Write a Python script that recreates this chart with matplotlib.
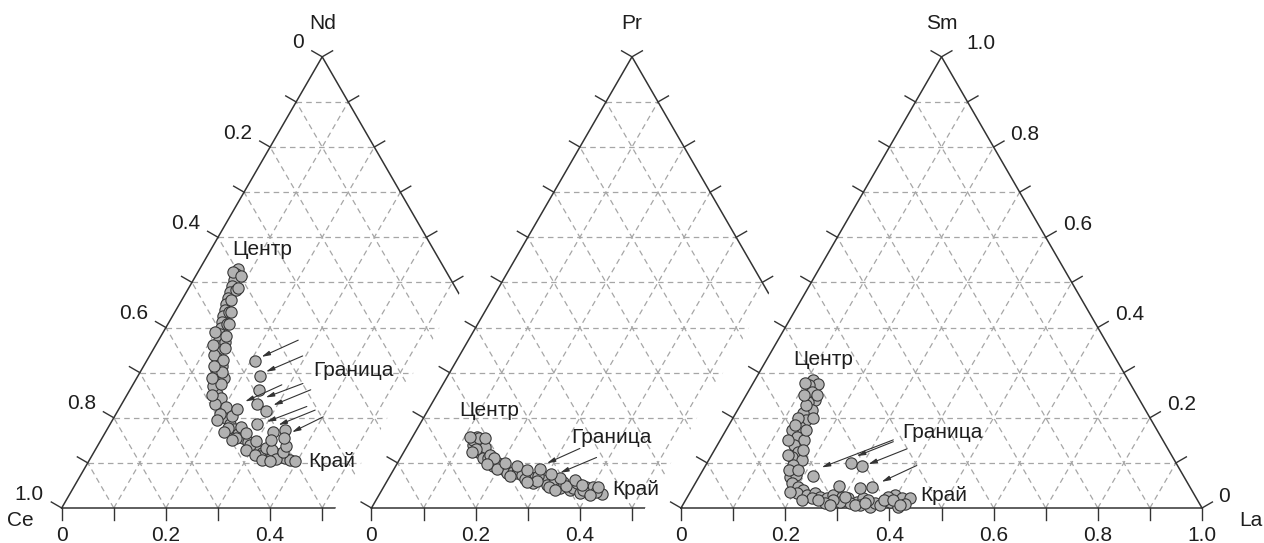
import numpy as np
import matplotlib.pyplot as plt
from matplotlib.patches import Polygon

plt.rcParams['font.family'] = ['Liberation Sans', 'DejaVu Sans']
plt.rcParams['lines.scale_dashes'] = False

H = np.sqrt(3) / 2
PX = 1 / 521  # one pixel expressed in triangle-side units

# left corners of the three triangles on the common baseline
x_origin = [0.0, 0.5946, 1.1887]
apex_names = ['Nd', 'Pr', 'Sm']

# compositions: b = base component, c = apex component (a = 1 - b - c)
# --- Ce-Nd panel
nd_core_b = [0.073, 0.075, 0.078, 0.081, 0.084, 0.086, 0.089, 0.094, 0.097, 0.102,
             0.107, 0.111, 0.116, 0.120, 0.127, 0.132, 0.138, 0.143, 0.150, 0.156,
             0.163, 0.172, 0.180, 0.191, 0.204, 0.215, 0.230, 0.243, 0.256, 0.270,
             0.285, 0.298, 0.311, 0.323, 0.335, 0.346, 0.353, 0.364, 0.374, 0.385,
             0.396, 0.067, 0.093, 0.095, 0.104, 0.113, 0.099, 0.129, 0.122, 0.151,
             0.168, 0.155, 0.184, 0.179, 0.203, 0.200, 0.225, 0.230, 0.254, 0.257,
             0.271, 0.291, 0.299, 0.323, 0.325, 0.340, 0.357, 0.363, 0.362, 0.087,
             0.094, 0.108, 0.117, 0.124, 0.135, 0.146, 0.157, 0.169, 0.145, 0.164,
             0.135, 0.110, 0.201, 0.228, 0.252, 0.290, 0.312, 0.331, 0.348]
nd_core_c = [0.530, 0.519, 0.505, 0.492, 0.479, 0.465, 0.452, 0.439, 0.426, 0.412,
             0.399, 0.386, 0.372, 0.359, 0.346, 0.332, 0.319, 0.306, 0.293, 0.279,
             0.266, 0.253, 0.239, 0.226, 0.213, 0.199, 0.186, 0.175, 0.164, 0.155,
             0.146, 0.137, 0.129, 0.122, 0.117, 0.115, 0.120, 0.113, 0.111, 0.106,
             0.104, 0.523, 0.483, 0.461, 0.434, 0.408, 0.390, 0.368, 0.339, 0.315,
             0.288, 0.270, 0.244, 0.230, 0.224, 0.208, 0.204, 0.177, 0.180, 0.155,
             0.166, 0.140, 0.148, 0.115, 0.133, 0.129, 0.109, 0.124, 0.137, 0.514,
             0.488, 0.434, 0.408, 0.381, 0.355, 0.328, 0.301, 0.275, 0.288, 0.250,
             0.315, 0.361, 0.195, 0.168, 0.151, 0.129, 0.117, 0.106, 0.104]
nd_rim_b = [0.208, 0.235, 0.248, 0.260, 0.285, 0.282, 0.322, 0.327, 0.343, 0.349, 0.227]
nd_rim_c = [0.326, 0.293, 0.262, 0.230, 0.215, 0.186, 0.168, 0.151, 0.173, 0.155, 0.219]
nd_arrows = [((0.268, 0.372), (0.216, 0.335)), ((0.294, 0.337), (0.241, 0.302)),
             ((0.286, 0.273), (0.234, 0.236)), ((0.325, 0.276), (0.269, 0.245)),
             ((0.347, 0.262), (0.292, 0.228)), ((0.358, 0.225), (0.298, 0.191)),
             ((0.378, 0.217), (0.324, 0.184)), ((0.401, 0.202), (0.358, 0.168))]

# --- Pr panel
pr_core_b = [0.123, 0.136, 0.125, 0.138, 0.142, 0.160, 0.159, 0.180, 0.187, 0.209,
             0.221, 0.231, 0.240, 0.252, 0.270, 0.282, 0.298, 0.311, 0.321, 0.340,
             0.339, 0.361, 0.365, 0.367, 0.383, 0.389, 0.399, 0.402, 0.426, 0.120,
             0.150, 0.169, 0.193, 0.198, 0.231, 0.263, 0.285, 0.349, 0.386, 0.413,
             0.128, 0.135, 0.169, 0.288, 0.317, 0.110, 0.140, 0.131, 0.180, 0.173,
             0.206, 0.233, 0.256, 0.270, 0.329, 0.360, 0.378, 0.332, 0.405, 0.412]
pr_core_c = [0.158, 0.151, 0.140, 0.140, 0.125, 0.121, 0.111, 0.103, 0.092, 0.086,
             0.077, 0.080, 0.077, 0.073, 0.069, 0.055, 0.062, 0.051, 0.062, 0.044,
             0.058, 0.040, 0.044, 0.055, 0.034, 0.047, 0.040, 0.047, 0.031, 0.151,
             0.135, 0.111, 0.100, 0.086, 0.071, 0.064, 0.071, 0.049, 0.040, 0.035,
             0.155, 0.131, 0.117, 0.060, 0.047, 0.157, 0.155, 0.124, 0.111, 0.098,
             0.100, 0.093, 0.084, 0.058, 0.067, 0.062, 0.051, 0.040, 0.029, 0.047]
pr_rim_b = [0.280, 0.308]
pr_rim_c = [0.086, 0.075]
pr_arrows = [((0.334, 0.132), (0.287, 0.099)), ((0.376, 0.112), (0.323, 0.078))]

# --- Sm-La panel
sm_core_b = [0.112, 0.126, 0.110, 0.122, 0.137, 0.126, 0.142, 0.130, 0.143, 0.138,
             0.126, 0.143, 0.160, 0.146, 0.163, 0.156, 0.179, 0.168, 0.174, 0.185,
             0.185, 0.201, 0.215, 0.206, 0.227, 0.241, 0.254, 0.269, 0.278, 0.296,
             0.310, 0.330, 0.339, 0.361, 0.367, 0.379, 0.394, 0.415, 0.396, 0.413,
             0.429, 0.319, 0.298, 0.283, 0.340, 0.385, 0.126, 0.125, 0.165, 0.240,
             0.271, 0.350, 0.381, 0.426, 0.100, 0.136, 0.111, 0.154, 0.127, 0.154,
             0.130, 0.170, 0.147, 0.183, 0.223, 0.191, 0.254, 0.283, 0.303, 0.331,
             0.348, 0.398, 0.417]
sm_core_c = [0.284, 0.275, 0.273, 0.258, 0.239, 0.236, 0.217, 0.210, 0.195, 0.180,
             0.173, 0.158, 0.151, 0.140, 0.125, 0.114, 0.106, 0.095, 0.069, 0.073,
             0.055, 0.047, 0.040, 0.033, 0.029, 0.033, 0.025, 0.022, 0.029, 0.025,
             0.022, 0.014, 0.022, 0.003, 0.010, 0.007, 0.014, 0.002, 0.029, 0.022,
             0.022, 0.010, 0.014, 0.018, 0.007, 0.025, 0.228, 0.200, 0.084, 0.022,
             0.011, 0.018, 0.018, 0.009, 0.277, 0.250, 0.250, 0.200, 0.184, 0.173,
             0.151, 0.129, 0.118, 0.084, 0.018, 0.036, 0.018, 0.007, 0.024, 0.007,
             0.011, 0.018, 0.007]
sm_rim_b = [0.218, 0.276, 0.300, 0.344, 0.322, 0.278]
sm_rim_c = [0.072, 0.099, 0.093, 0.047, 0.044, 0.049]
sm_arrows = [((0.332, 0.151), (0.225, 0.090)), ((0.334, 0.147), (0.280, 0.115)),
             ((0.368, 0.131), (0.311, 0.097)), ((0.405, 0.094), (0.356, 0.058))]

panels = [
    (nd_core_b + nd_rim_b, nd_core_c + nd_rim_c, nd_arrows),
    (pr_core_b + pr_rim_b, pr_core_c + pr_rim_c, pr_arrows),
    (sm_core_b + sm_rim_b, sm_core_c + sm_rim_c, sm_arrows),
]

# zone labels, (b, c) of the text centre
zone_names = ['Центр', 'Граница', 'Край']
zone_pos = [
    [(0.097, 0.574), (0.407, 0.304), (0.468, 0.102)],
    [(0.117, 0.217), (0.383, 0.157), (0.488, 0.040)],
    [(0.108, 0.330), (0.417, 0.168), (0.490, 0.027)],
]

tick_vals = np.round(np.arange(0, 1.01, 0.1), 1)
left_labels = [0.0, 0.2, 0.4, 0.6, 0.8, 1.0]    # along Ce edge, 0 at the apex
base_labels_short = [0.0, 0.2, 0.4]
base_labels_full = [0.0, 0.2, 0.4, 0.6, 0.8, 1.0]
right_labels = [0.2, 0.4, 0.6, 0.8]             # along La edge, apex = 1.0

EDGE = '#333333'
GRID = '#a6a6a6'
INK = '#1e1e1e'
FS = 15


def tern(x0, b, c):
    b = np.asarray(b, dtype=float)
    c = np.asarray(c, dtype=float)
    return x0 + b + c / 2, c * H


def draw_frame(ax, x0, z):
    for v in tick_vals[1:-1]:
        for bb, cc in (([0, 1 - v], [v, v]), ([v, v], [0, 1 - v]), ([1 - v, 0], [0, 1 - v])):
            x, y = tern(x0, bb, cc)
            ax.plot(x, y, color=GRID, lw=0.9, dashes=(4, 3), zorder=z)
    x, y = tern(x0, [0, 1, 0, 0], [0, 0, 1, 0])
    ax.plot(x, y, color=EDGE, lw=1.1, zorder=z + 1, solid_joinstyle='miter')
    t = 12 * PX
    for v in tick_vals:
        lx, ly = tern(x0, 0, v)
        ax.plot([lx, lx - t * H], [ly, ly + t / 2], color=EDGE, lw=1.0, zorder=z + 1)
        rx, ry = tern(x0, 1 - v, v)
        ax.plot([rx, rx + t * H], [ry, ry + t / 2], color=EDGE, lw=1.0, zorder=z + 1)
        bx, by = tern(x0, v, 0)
        ax.plot([bx, bx], [by, by - t], color=EDGE, lw=1.0, zorder=z + 1)


fig = plt.figure(figsize=(12.64, 5.43), dpi=100)
ax = fig.add_axes([0, 0, 1, 1])
x_lo, x_hi = -61.7 * PX, (1264 - 61.7) * PX
y_lo, y_hi = -35 * PX, 508 * PX
ax.set_xlim(x_lo, x_hi)
ax.set_ylim(y_lo, y_hi)
ax.axis('off')

for k, x0 in enumerate(x_origin):
    z = 10 * k + 2
    if k > 0:
        # blank out the part of the previous triangle that sits under this one
        xl = x0 - 36 * PX
        top = y_hi + 0.1
        cover = Polygon([(xl, y_lo - 0.1), (xl, 0), (xl + top / np.sqrt(3), top),
                         (x_hi + 0.1, top), (x_hi + 0.1, y_lo - 0.1)],
                        closed=True, facecolor='white', edgecolor='none', zorder=z - 1)
        ax.add_patch(cover)
    draw_frame(ax, x0, z)

    pb, pc, arrows = panels[k]
    x, y = tern(x0, pb, pc)
    ax.scatter(x, y, s=66, facecolor='#b2b2b2', edgecolor='#383838', linewidth=0.8,
               zorder=z + 3)
    for tail, head in arrows:
        tx, ty = tern(x0, *tail)
        hx, hy = tern(x0, *head)
        ax.annotate('', xy=(hx, hy), xytext=(tx, ty), zorder=z + 4,
                    arrowprops=dict(arrowstyle='-|>,head_length=0.5,head_width=0.13',
                                    color=EDGE, lw=0.8, shrinkA=0, shrinkB=0))
    for name, (bb, cc) in zip(zone_names, zone_pos[k]):
        tx, ty = tern(x0, bb, cc)
        ax.text(tx, ty, name, fontsize=FS, ha='center', va='center', color=INK,
                zorder=100)

    apx, apy = tern(x0, 0, 1)
    ax.text(apx, apy + 33 * PX, apex_names[k], fontsize=FS, ha='center', va='center',
            color=INK, zorder=100)

    base_labels = base_labels_full if k == 2 else base_labels_short
    for v in base_labels:
        bx, by = tern(x0, v, 0)
        lab = '0' if v == 0 else f'{v:.1f}'
        ax.text(bx, by - 33 * PX, lab, fontsize=FS, ha='center', va='baseline',
                color=INK, zorder=100)

# Ce edge labels on the first triangle
for v in left_labels:
    lx, ly = tern(x_origin[0], 0, 1 - v)
    lab = '0' if v == 0 else f'{v:.1f}'
    ax.text(lx - 18 * PX, ly + 14 * PX, lab, fontsize=FS, ha='right', va='center',
            color=INK, zorder=100)

# Sm edge labels on the last triangle
x3 = x_origin[2]
for v in right_labels:
    rx, ry = tern(x3, 1 - v, v)
    ax.text(rx + 17 * PX, ry + 13 * PX, f'{v:.1f}', fontsize=FS, ha='left', va='center',
            color=INK, zorder=100)
apx, apy = tern(x3, 0, 1)
ax.text(apx + 25 * PX, apy + 13 * PX, '1.0', fontsize=FS, ha='left', va='center',
        color=INK, zorder=100)
rx, ry = tern(x3, 1, 0)
ax.text(rx + 16 * PX, ry + 11 * PX, '0', fontsize=FS, ha='left', va='center',
        color=INK, zorder=100)

# corner component names
cx, cy = tern(x_origin[0], 0, 0)
ax.text(cx - 41 * PX, cy - 13 * PX, 'Ce', fontsize=FS, ha='center', va='center',
        color=INK, zorder=100)
ax.text(rx + 49 * PX, ry - 13 * PX, 'La', fontsize=FS, ha='center', va='center',
        color=INK, zorder=100)

fig.savefig('out.png', dpi=100, facecolor='white')
